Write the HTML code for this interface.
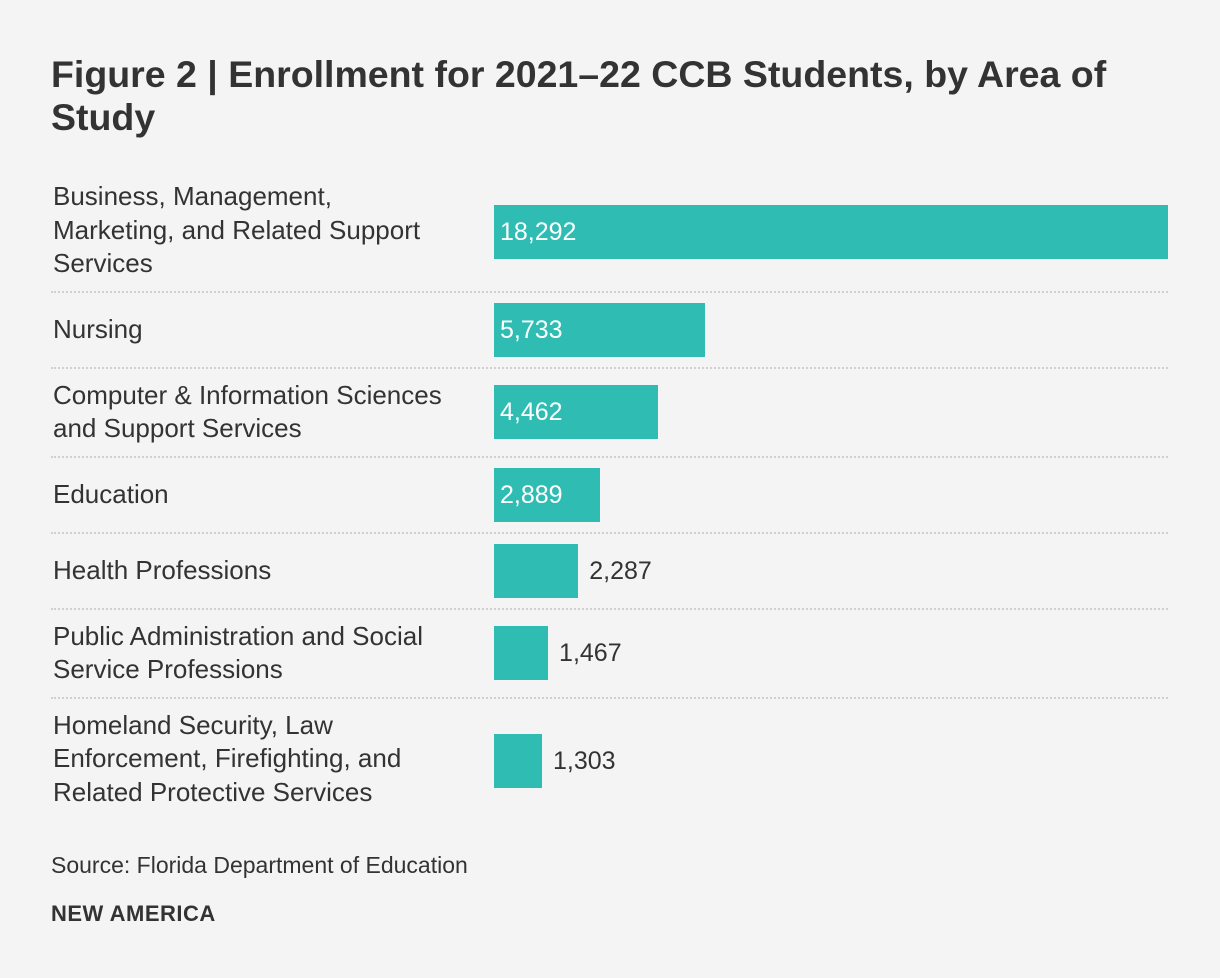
<!DOCTYPE html>
<html><head><meta charset="utf-8"><style>
html,body{margin:0;padding:0;background:#f4f4f4;}
body{width:1220px;height:978px;position:relative;overflow:hidden;font-family:"Liberation Sans",sans-serif;color:#333;}
#title{position:absolute;left:51px;top:53px;width:1140px;font-size:37.5px;font-weight:bold;line-height:43px;margin:0;color:#333;}
.lbl{position:absolute;left:53px;font-size:26px;line-height:33.5px;color:#333;white-space:nowrap;}
.bar{position:absolute;background:#2fbdb3;height:54px;}
.val{position:absolute;font-size:25px;line-height:54px;white-space:nowrap;}
.sep{position:absolute;left:51px;width:1117px;border-top:2px dotted #d0d0d0;height:0;}
#source{position:absolute;left:51px;top:852px;font-size:23px;}
#brand{position:absolute;left:51px;top:901px;font-size:22px;font-weight:bold;letter-spacing:0.5px;}
</style></head><body>
<h1 id="title">Figure 2 | Enrollment for 2021–22 CCB Students, by Area of<br>Study</h1>
<div id="chart"></div>
<div id="source">Source: Florida Department of Education</div>
<div id="brand">NEW AMERICA</div>
<script>
const categories = [
 ["Business, Management,","Marketing, and Related Support","Services"],
 ["Nursing"],
 ["Computer & Information Sciences","and Support Services"],
 ["Education"],
 ["Health Professions"],
 ["Public Administration and Social","Service Professions"],
 ["Homeland Security, Law","Enforcement, Firefighting, and","Related Protective Services"]
];
const values = [18292, 5733, 4462, 2889, 2287, 1467, 1303];
const valueLabels = ["18,292","5,733","4,462","2,889","2,287","1,467","1,303"];

const chart = document.getElementById('chart');
const x0 = 494, xMax = 1168;
const maxV = Math.max(...values);
function xScale(v){ return (v / maxV) * (xMax - x0); }
let y = 169;
const LH = 33.5, PAD = 11;
categories.forEach((lines, i) => {
  const content = Math.max(54, lines.length * LH);
  const rowH = content + 2 * PAD;
  const cy = y + PAD + content / 2;
  const bcy = cy + (lines.length === 3 ? 2 : 0);
  const lbl = document.createElement('div');
  lbl.className = 'lbl';
  
  
  lbl.innerHTML = lines.map(s => s.replace(/&/g,'&amp;')).join('<br>');
  lbl.style.top = (cy - lines.length * LH / 2) + 'px';
  chart.appendChild(lbl);
  const w = xScale(values[i]);
  const bar = document.createElement('div');
  bar.className = 'bar';
  
  
  bar.style.left = x0 + 'px';
  bar.style.top = (bcy - 27) + 'px';
  bar.style.width = w + 'px';
  chart.appendChild(bar);
  const val = document.createElement('div');
  val.className = 'val';
  
  
  val.textContent = valueLabels[i];
  val.style.top = (bcy - 27) + 'px';
  if (w > 100) { val.style.left = (x0 + 6) + 'px'; val.style.color = '#fff'; }
  else { val.style.left = (x0 + w + 11) + 'px'; val.style.color = '#333'; }
  chart.appendChild(val);
  y += rowH;
  if (i < categories.length - 1) {
    const sep = document.createElement('div');
    sep.className = 'sep';
    
    
    sep.style.top = (y - 1) + 'px';
    chart.appendChild(sep);
  }
});
</script>
</body></html>
